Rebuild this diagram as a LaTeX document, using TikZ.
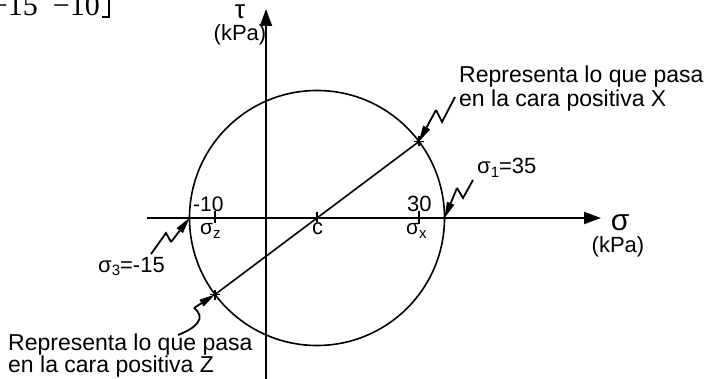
\documentclass[tikz,border=0pt]{standalone}
\usepackage{fontspec}
\setmainfont{Liberation Sans}
\newfontfamily\serifx{Liberation Serif}
\usetikzlibrary{arrows.meta,calc}
\newcommand{\fs}[1]{\fontsize{#1}{#1}\selectfont}
\newcommand{\lowsub}[1]{\raisebox{-3.5pt}{\fontsize{15}{15}\selectfont #1}}
\newcommand{\leadhead}[2]{%
  \path ($(#1)!16pt!(#2)$) coordinate (hb);
  \draw[leader] (#2) -- (hb);
  \fill ($(hb)!4pt!90:(#1)$) -- (#1) -- ($(hb)!4pt!-90:(#1)$) -- cycle;}
\begin{document}
\begin{tikzpicture}[x=1pt,y=-1pt,
  axis/.style={line width=2pt,-{Triangle[length=17pt,width=12pt]}},
  curve/.style={line width=1.6pt},
  leader/.style={line width=1.8pt},
  lbl/.style={inner sep=0pt}]
\useasboundingbox (0,0) rectangle (706,379);
% coordinates
\coordinate (O) at (266,218);
\coordinate (C) at (317,218);
\coordinate (X) at (419,141.5);
\coordinate (Z) at (215,294.5);
\coordinate (S1) at (444.5,218);
\coordinate (S3) at (189.5,218);
\coordinate (hs) at (147,218);
\coordinate (he) at (601,218);
\coordinate (vs) at (266,381);
\coordinate (ve) at (266,9);
% axes
\draw[axis] (hs) -- (he);
\draw[axis] (vs) -- (ve);
% circle and diameter
\draw[curve] (C) circle[radius=127.5];
\draw[curve] (Z) -- (X);
% ticks
\draw[curve] (215,211) -- (215,223);
\draw[curve] (419,211) -- (419,224);
\draw[curve] (C) ++(0,-6) -- ++(0,10);
\draw[curve] (X) ++(-5,0) -- ++(10,0) (X) ++(0,-5) -- ++(0,10);
\draw[curve] (Z) ++(-5,0) -- ++(10,0) (Z) ++(0,-5) -- ++(0,10);
% top-left fragment
\node[lbl,anchor=base east,font=\serifx\fs{30}] (m1) at (38,16) {−15};
\node[lbl,anchor=base east,font=\serifx\fs{30}] (m2) at (100,16) {−10};
\draw[line width=1.3pt] (102,17) -- (109,17) -- (109,-5);
% axis labels
\node[lbl,anchor=base,font=\fs{26}] (tau) at (240,19) {τ};
\node[lbl,anchor=base,font=\fs{22}] (tauu) at (240,41) {(kPa)};
\node[lbl,anchor=base,font=\fs{30}] (sig) at (620,231) {σ};
\node[lbl,anchor=base,font=\fs{22}] (sigu) at (618,252) {(kPa)};
% values
\node[lbl,anchor=base west,font=\fs{21}] (m10) at (193,212) {-10};
\node[lbl,anchor=base west,font=\fs{22}] (p30) at (407,212) {30};
\node[lbl,anchor=base west,font=\fs{21}] (sz) at (200,235) {σ\lowsub{z}};
\node[lbl,anchor=base west,font=\fs{22}] (cc) at (312,234) {c};
\node[lbl,anchor=base west,font=\fs{21}] (sx) at (406,235) {σ\lowsub{x}};
\node[lbl,anchor=base west,font=\fs{22}] (s1) at (477,174) {σ\lowsub{1}=35};
\node[lbl,anchor=base west,font=\fs{22}] (s3) at (98,272) {σ\lowsub{3}=-15};
% explanatory texts (base = last line)
\node[lbl,anchor=base west,align=left,font=\fontsize{23}{24}\selectfont] (tx) at (459,107) {Representa lo que pasa\\en la cara positiva X};
\node[lbl,anchor=base west,align=left,font=\fontsize{23}{22}\selectfont] (tz) at (8,372) {Representa lo que pasa\\en la cara positiva Z};
% leaders
\coordinate (lx) at (455,97);
\coordinate (l1) at (473,180);
\coordinate (l3) at (151,254);
\coordinate (lz) at (178,335);
\coordinate (kx) at (436,110);
\coordinate (k1) at (457,188);
\coordinate (k3) at (171,242);
\coordinate (kz) at (194,308);
\draw[leader] (lx) -- (442,122) -- (kx);
\leadhead{X}{kx}
\draw[leader] (l1) -- (463,198) -- (k1);
\leadhead{S1}{k1}
\draw[leader] (l3) -- (166,233) -- (k3);
\leadhead{S3}{k3}
\draw[leader] (lz) .. controls (196,328) and (207,318) .. (kz);
\leadhead{Z}{kz}
\end{tikzpicture}
\end{document}
